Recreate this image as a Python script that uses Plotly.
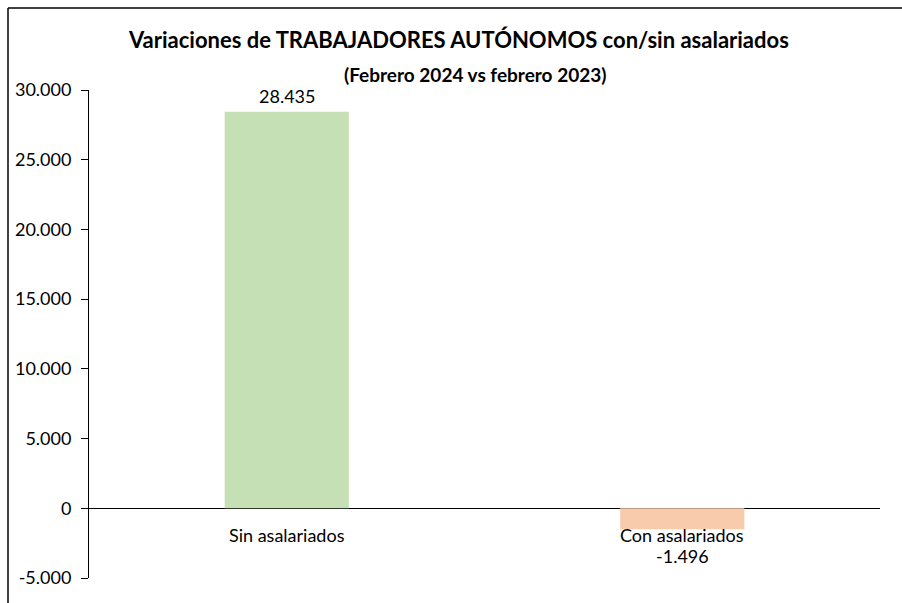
import plotly.graph_objects as go

categories = ["Sin asalariados", "Con asalariados"]
values = [28435, -1496]
colors = ["#C5E0B4", "#F8CBAD"]
tick_vals = [-5000, 0, 5000, 10000, 15000, 20000, 25000, 30000]
tick_text = ["-5.000", "0", "5.000", "10.000", "15.000", "20.000", "25.000", "30.000"]
value_labels = ["28.435", "-1.496"]

FONT = "Lato, 'Open Sans', sans-serif"

fig = go.Figure()
fig.add_trace(go.Bar(
    x=categories, y=values, marker=dict(color=colors, line=dict(width=0)),
    hoverinfo="skip", showlegend=False,
))

annotations = []
for c in categories:
    annotations.append(dict(x=c, y=0, xref="x", yref="y", text=c, showarrow=False,
                            xanchor="center", yanchor="top", yshift=-14,
                            font=dict(family=FONT, size=18, color="#000")))
for c, v, t in zip(categories, values, value_labels):
    if v >= 0:
        annotations.append(dict(x=c, y=v, xref="x", yref="y", text=t, showarrow=False,
                                xanchor="center", yanchor="bottom", yshift=3,
                                font=dict(family=FONT, size=18, color="#000")))
    else:
        annotations.append(dict(x=c, y=0, xref="x", yref="y", text=t, showarrow=False,
                                xanchor="center", yanchor="top", yshift=-35,
                                font=dict(family=FONT, size=18, color="#000")))

L, R, T, B = 89, 22, 90, 25
pw, ph = 902 - L - R, 603 - T - B

def px(x):
    return (x - L) / pw

def py(y):
    return (603 - y - B) / ph

annotations.append(dict(x=px(458), y=py(40), xref="paper", yref="paper",
                        text="<b>Variaciones de TRABAJADORES AUTÓNOMOS con/sin asalariados</b>",
                        xanchor="center", yanchor="middle", showarrow=False,
                        font=dict(family=FONT, size=22, color="#000")))
annotations.append(dict(x=px(475), y=py(75), xref="paper", yref="paper",
                        text="<b>(Febrero 2024 vs febrero 2023)</b>",
                        xanchor="center", yanchor="middle", showarrow=False,
                        font=dict(family=FONT, size=19, color="#000")))

fig.update_layout(
    width=902, height=603,
    margin=dict(l=L, r=R, t=T, b=B, pad=0),
    paper_bgcolor="white", plot_bgcolor="white",
    bargap=0.686,
    font=dict(family=FONT, size=18, color="#000"),
    annotations=annotations,
    xaxis=dict(showticklabels=False, showgrid=False, zeroline=False, showline=False, ticks=""),
    yaxis=dict(range=[-5000, 30000], tickvals=tick_vals, ticktext=tick_text,
               showgrid=False, zeroline=True, zerolinecolor="#000", zerolinewidth=1.2,
               showline=True, linecolor="#000", linewidth=1, ticks="outside", ticklen=7,
               tickcolor="#000", tickfont=dict(family=FONT, size=18), ticklabelstandoff=6),
    shapes=[
        dict(type="line", xref="paper", yref="paper", x0=px(8), x1=px(902),
             y0=py(8), y1=py(8), line=dict(color="#000", width=1.5)),
        dict(type="line", xref="paper", yref="paper", x0=px(8), x1=px(8),
             y0=py(8), y1=py(603), line=dict(color="#000", width=1.5)),
    ],
)

fig.write_html("out.html", config={"displayModeBar": False},
               post_script="document.body.style.margin='0';document.body.style.overflow='hidden';")
